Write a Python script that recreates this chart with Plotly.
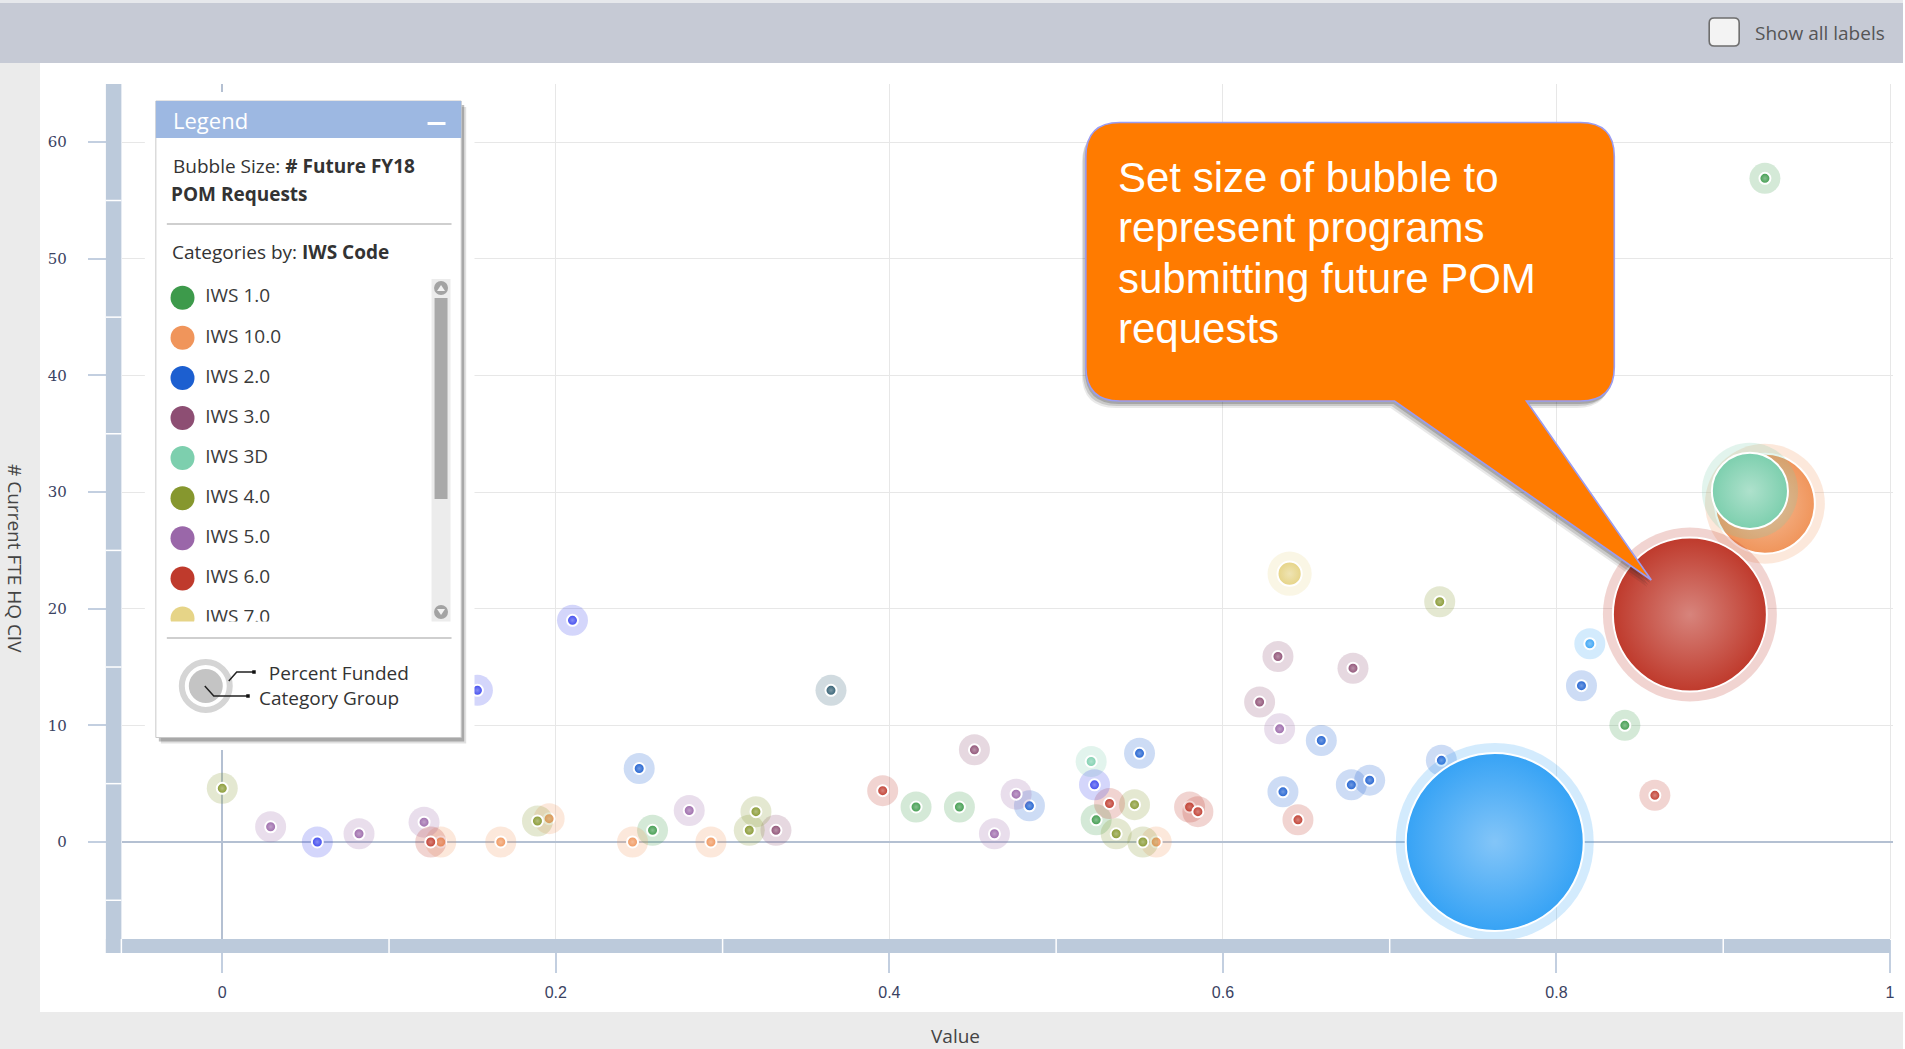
import numpy as np
import plotly.graph_objects as go

W, H = 1905, 1049

# ---------------------------------------------------------------- data
CATEGORIES = ["IWS 1.0", "IWS 10.0", "IWS 2.0", "IWS 3.0", "IWS 3D", "IWS 4.0",
              "IWS 5.0", "IWS 6.0", "IWS 7.0", "IWS 8.0", "IWS 9.0", "IWS 9.5"]
CATEGORY_COLORS = ["#3d9a4b", "#f0955b", "#1c5fd0", "#8d4e73", "#7dcfae", "#86972e",
                   "#9a67a9", "#bf3a2c", "#e6d487", "#3b46ee", "#2e5c70", "#37a3f5"]

# one entry per program group, in drawing order
BUBBLE_CATEGORY = (
    ["IWS 1.0"] * 6 + ["IWS 10.0"] * 7 + ["IWS 2.0"] * 9 + ["IWS 3.0"] * 5 +
    ["IWS 3D"] * 2 + ["IWS 4.0"] * 8 + ["IWS 5.0"] * 7 + ["IWS 6.0"] * 8 +
    ["IWS 7.0"] * 1 + ["IWS 8.0"] * 4 + ["IWS 9.0"] * 1 + ["IWS 9.5"] * 2
)
BUBBLE_VALUE = [
    0.258, 0.416, 0.442, 0.524, 0.841, 0.925,                 # IWS 1.0
    0.131, 0.167, 0.196, 0.246, 0.293, 0.560, 0.925,          # IWS 10.0
    0.250, 0.484, 0.550, 0.636, 0.659, 0.677, 0.688, 0.731, 0.815,  # IWS 2.0
    0.332, 0.451, 0.622, 0.633, 0.678,                        # IWS 3.0
    0.521, 0.916,                                             # IWS 3D
    0.000, 0.189, 0.316, 0.320, 0.547, 0.536, 0.552, 0.730,   # IWS 4.0
    0.029, 0.082, 0.121, 0.280, 0.463, 0.476, 0.634,          # IWS 5.0
    0.125, 0.396, 0.532, 0.580, 0.585, 0.645, 0.859, 0.880,   # IWS 6.0
    0.640,                                                    # IWS 7.0
    0.057, 0.153, 0.210, 0.523,                               # IWS 8.0
    0.365,                                                    # IWS 9.0
    0.820, 0.763,                                             # IWS 9.5
]
BUBBLE_FTE = [
    1.0, 3.0, 3.0, 1.9, 10.0, 56.9,
    0.0, 0.0, 2.0, 0.0, 0.0, 0.0, 29.0,
    6.3, 3.1, 7.6, 4.3, 8.7, 4.9, 5.3, 7.0, 13.4,
    1.0, 7.9, 12.0, 15.9, 14.9,
    6.9, 30.1,
    4.6, 1.8, 1.0, 2.6, 3.2, 0.7, 0.0, 20.6,
    1.3, 0.7, 1.7, 2.7, 0.7, 4.1, 9.7,
    0.0, 4.4, 3.3, 3.0, 2.6, 1.9, 4.0, 19.5,
    23.0,
    0.0, 13.0, 19.0, 4.9,
    13.0,
    17.0, 0.0,
]
BUBBLE_REQUESTS = [
    1, 1, 1, 1, 1, 1,
    1, 1, 1, 1, 1, 1, 136,
    1, 1, 1, 1, 1, 1, 1, 1, 1,
    1, 1, 1, 1, 1,
    1, 78,
    1, 1, 1, 1, 1, 1, 1, 1,
    1, 1, 1, 1, 1, 1, 1,
    1, 1, 1, 1, 1, 1, 1, 328,
    7,
    1, 1, 1, 1,
    1,
    1, 440,
]

X_TICKS = [0, 0.2, 0.4, 0.6, 0.8, 1]
Y_TICKS = [0, 10, 20, 30, 40, 50, 60]
X_RANGE = [-0.0602, 1.0018]
Y_RANGE = [-8.32, 64.99]

CALLOUT_LINES = ["Set size of bubble to", "represent programs",
                 "submitting future POM", "requests"]

# rows of the legend list that fit in its scrolling window
LEGEND_ROWS = 9


# ---------------------------------------------------------------- helpers
def px(x):
    return x / W


def py(y):
    return 1 - y / H


def rgb(h):
    h = h.lstrip("#")
    return tuple(int(h[i:i + 2], 16) for i in (0, 2, 4))


def rgba(h, a):
    r, g, b = rgb(h)
    return f"rgba({r},{g},{b},{a})"


def lighten(h, t):
    r, g, b = rgb(h)
    return "#%02x%02x%02x" % tuple(int(c + (255 - c) * t) for c in (r, g, b))


def ppath(points_cmds, dx=0, dy=0):
    out = []
    for item in points_cmds:
        if isinstance(item, str):
            out.append(item)
        else:
            out.append(f"{px(item[0] + dx):.5f},{py(item[1] + dy):.5f}")
    return " ".join(out)


def prect(x0, y0, x1, y1, color, layer="below", line=None):
    d = dict(type="rect", xref="paper", yref="paper", x0=px(x0), x1=px(x1),
             y0=py(y1), y1=py(y0), fillcolor=color, layer=layer,
             line=dict(width=0) if line is None else line)
    return d


# ---------------------------------------------------------------- bubbles
cat_idx = {c: i for i, c in enumerate(CATEGORIES)}
req = np.array(BUBBLE_REQUESTS, dtype=float)
MAX_DOT, MIN_DOT, HALO_PAD = 176.0, 9.0, 22.0
dot_d = np.maximum(MIN_DOT, MAX_DOT * np.sqrt(req / req.max()))

bx, by, bs, bc, blw, blc, gt, gc = [], [], [], [], [], [], [], []
for v, f, c, d in zip(BUBBLE_VALUE, BUBBLE_FTE, BUBBLE_CATEGORY, dot_d):
    base = CATEGORY_COLORS[cat_idx[c]]
    # funding ring
    bx.append(v); by.append(f); bs.append(d + HALO_PAD)
    bc.append(rgba(base, 0.22)); blw.append(0); blc.append("rgba(0,0,0,0)")
    gt.append("none"); gc.append(base)
    # category core
    bx.append(v); by.append(f); bs.append(d + 2)
    bc.append(base); blw.append(2); blc.append("white")
    gt.append("radial"); gc.append(lighten(base, 0.38))

fig = go.Figure()
fig.add_trace(go.Scatter(
    x=bx, y=by, mode="markers", hoverinfo="skip",
    marker=dict(size=bs, color=bc, line=dict(width=blw, color=blc),
                gradient=dict(type=gt, color=gc), opacity=1),
    xaxis="x", yaxis="y", showlegend=False,
))

# placeholder so the legend panel subplot exists
fig.add_trace(go.Scatter(x=[], y=[], xaxis="x2", yaxis="y2", showlegend=False))

# legend rows (the last visible row is clipped by the scrolling window)
legend_names = CATEGORIES[:LEGEND_ROWS]
legend_colors = CATEGORY_COLORS[:LEGEND_ROWS]
ROW_Y = [297.7 + 40.1 * i for i in range(LEGEND_ROWS)]
fig.add_trace(go.Scatter(
    x=[182.7] * LEGEND_ROWS, y=ROW_Y, mode="markers", hoverinfo="skip",
    marker=dict(size=24, color=legend_colors, line=dict(width=0)),
    xaxis="x3", yaxis="y3", showlegend=False,
))
fig.add_trace(go.Scatter(
    x=[205.5] * LEGEND_ROWS, y=ROW_Y, mode="text", text=legend_names,
    textposition="middle right", hoverinfo="skip",
    textfont=dict(family="Open Sans", size=19, color="#3a3a3a"),
    xaxis="x3", yaxis="y3", showlegend=False,
))

# ---------------------------------------------------------------- shapes
shapes = []
# page chrome
shapes.append(prect(0, 0, W, 3, "#e6e8ec"))
shapes.append(prect(0, 3, W, 63, "#c6cad5"))
shapes.append(prect(0, 63, 40, H, "#ebebeb"))
shapes.append(prect(0, 1012, W, H, "#ebebeb"))

# axis bars
BAR = "#bccadb"
shapes.append(prect(106, 84, 121.5, 953, BAR, layer="above"))
shapes.append(prect(106, 939, 1892, 953, BAR, layer="above"))
for yv in [55, 45, 35, 25, 15, 5, -5]:
    shapes.append(dict(type="line", xref="paper", yref="y", x0=px(106), x1=px(121.5),
                       y0=yv, y1=yv, line=dict(color="white", width=1.5), layer="above"))
for xv in [0.1, 0.3, 0.5, 0.7, 0.9]:
    shapes.append(dict(type="line", xref="x", yref="paper", x0=xv, x1=xv,
                       y0=py(953), y1=py(939), line=dict(color="white", width=1.5), layer="above"))
shapes.append(dict(type="line", xref="paper", yref="paper", x0=px(121.5), x1=px(121.5),
                   y0=py(953), y1=py(939), line=dict(color="white", width=1.5), layer="above"))

# checkbox
cb = ["M", (1716, 18), "L", (1736, 18), "Q", (1741, 18), (1741, 23), "L", (1741, 41),
      "Q", (1741, 46), (1736, 46), "L", (1716, 46), "Q", (1711, 46), (1711, 41),
      "L", (1711, 23), "Q", (1711, 18), (1716, 18), "Z"]
shapes.append(dict(type="path", xref="paper", yref="paper", path=ppath(cb),
                   fillcolor="#f3f3f3", line=dict(color="#6e6e6e", width=1.6), layer="above"))

# callout balloon
L, T, R, B, RAD = 1087, 122.5, 1616, 401, 34
TAIL_L, TAIL_R, TIP = 1396, 1528, (1653, 580)
balloon = ["M", (L + RAD, T), "L", (R - RAD, T), "Q", (R, T), (R, T + RAD),
           "L", (R, B - RAD), "Q", (R, B), (R - RAD, B), "L", (TAIL_R, B), "L", TIP,
           "L", (TAIL_L, B), "L", (L + RAD, B), "Q", (L, B), (L, B - RAD),
           "L", (L, T + RAD), "Q", (L, T), (L + RAD, T), "Z"]
for dx, dy, a in [(-4, 7, 0.10), (-3, 5, 0.16), (-1, 3, 0.22)]:
    shapes.append(dict(type="path", xref="paper", yref="paper", path=ppath(balloon, dx, dy),
                       fillcolor=f"rgba(40,40,40,{a})", line=dict(width=0), layer="above"))
shapes.append(dict(type="path", xref="paper", yref="paper", path=ppath(balloon),
                   fillcolor="#ff7b00", line=dict(color="#9a9cf2", width=1.6), layer="above"))


# legend panel (pixel units on x2/y2)
def lrect(x0, y0, x1, y1, fill, line=None):
    return dict(type="rect", xref="x2", yref="y2", x0=x0, x1=x1, y0=y0, y1=y1,
                fillcolor=fill, layer="below",
                line=dict(width=0) if line is None else line)


LG_L, LG_T, LG_R, LG_B = 156, 101, 461.7, 737.5
shapes.append(lrect(LG_L + 5, LG_T + 6, LG_R + 5, LG_B + 6, "rgba(0,0,0,0.12)"))
shapes.append(lrect(LG_L + 3, LG_T + 4, LG_R + 3, LG_B + 4, "rgba(0,0,0,0.25)"))
shapes.append(lrect(LG_L, LG_T, LG_R, LG_B, "white", dict(color="#c9c9c9", width=1)))
shapes.append(lrect(LG_L, LG_T, LG_R, 138, "#9db8e2"))
shapes.append(lrect(428, 122, 446, 125, "white"))
for ysep in (224, 638):
    shapes.append(dict(type="line", xref="x2", yref="y2", x0=167, x1=452, y0=ysep, y1=ysep,
                       line=dict(color="#cfcfcf", width=2), layer="below"))
# scroll bar
shapes.append(lrect(432, 279, 451, 621.5, "#ececec"))
shapes.append(lrect(435, 298, 448, 499, "#a9a9a9"))
for cy, tri in [(288, [(437.5, 291), (445.5, 291), (441.5, 285)]),
                (612, [(437.5, 609), (445.5, 609), (441.5, 615)])]:
    shapes.append(dict(type="circle", xref="x2", yref="y2", x0=434.5, x1=448.5,
                       y0=cy - 7, y1=cy + 7, fillcolor="#a3a3a3", line=dict(width=0), layer="below"))
    shapes.append(dict(type="path", xref="x2", yref="y2", layer="below",
                       path="M {} {} L {} {} L {} {} Z".format(*tri[0], *tri[1], *tri[2]),
                       fillcolor="#f2f2f2", line=dict(width=0)))
# ring key icon
shapes.append(dict(type="circle", xref="x2", yref="y2", x0=206 - 24, x1=206 + 24,
                   y0=686 - 24, y1=686 + 24, fillcolor="rgba(0,0,0,0)",
                   line=dict(color="#d5d5d5", width=6), layer="below"))
shapes.append(dict(type="circle", xref="x2", yref="y2", x0=206 - 17, x1=206 + 17,
                   y0=686 - 17, y1=686 + 17, fillcolor="#c4c4c4",
                   line=dict(width=0), layer="below"))
shapes.append(dict(type="path", xref="x2", yref="y2", layer="below",
                   path="M 229 681 L 237 672 L 254 672", line=dict(color="#222", width=1.5)))
shapes.append(dict(type="path", xref="x2", yref="y2", layer="below",
                   path="M 205 686 L 214 696 L 248 696", line=dict(color="#222", width=1.5)))
shapes.append(lrect(252.5, 670.3, 256, 673.8, "#111"))
shapes.append(lrect(246.5, 694.3, 250, 697.8, "#111"))

# ---------------------------------------------------------------- annotations
ann = []


def label(x, y, text, size=19, color="#333", family="Open Sans", anchor="left", **kw):
    ann.append(dict(x=px(x), y=py(y), xref="paper", yref="paper", xanchor=anchor,
                    yanchor="middle", showarrow=False, text=text,
                    font=dict(family=family, size=size, color=color), **kw))


label(1755, 33, "Show all labels", color="#555")
label(957, 1035.5, "Value", color="#444", anchor="center")
label(15, 559, "# Current FTE HQ CIV", size=19, color="#444", anchor="center", textangle=90)
for i, line in enumerate(CALLOUT_LINES):
    label(1117, 177.5 + 50.4 * i, line, size=42, color="white", family="Liberation Sans")
label(171, 120, "Legend", size=22, color="white")
label(171, 166, "Bubble Size: <b># Future FY18</b>")
label(169, 194, "<b>POM Requests</b>")
label(170, 252, "Categories by: <b>IWS Code</b>")
label(258, 685, "&nbsp;&nbsp;Percent Funded<br>Category Group", align="left", borderpad=0)

# ---------------------------------------------------------------- layout
hidden = dict(visible=False, showgrid=False, zeroline=False, fixedrange=True)
fig.update_layout(
    width=W, height=H, margin=dict(l=0, r=0, t=0, b=0),
    paper_bgcolor="white", plot_bgcolor="white", showlegend=False,
    xaxis=dict(domain=[px(122), px(1895)], range=X_RANGE, tickvals=X_TICKS,
               showgrid=True, gridcolor="#e7e7e7", gridwidth=1.2,
               zeroline=True, zerolinecolor="#b4c0d2", zerolinewidth=1.5,
               showline=False, ticks="outside", ticklen=33, tickwidth=1.5,
               tickcolor="#c3cfe0", ticklabelstandoff=6,
               tickfont=dict(family="Liberation Sans", size=16, color="#3a4262"),
               anchor="y", fixedrange=True),
    yaxis=dict(domain=[py(939), py(84)], range=Y_RANGE, tickvals=Y_TICKS,
               showgrid=True, gridcolor="#e7e7e7", gridwidth=1.2,
               zeroline=True, zerolinecolor="#b4c0d2", zerolinewidth=1.5,
               showline=False, ticks="outside", ticklen=33, tickwidth=1.5,
               tickcolor="#c3cfe0", ticklabelstandoff=18,
               tickfont=dict(family="DejaVu Serif", size=15, color="#3a4262"),
               anchor="x", fixedrange=True),
    xaxis2=dict(domain=[px(145), px(475)], range=[145, 475], anchor="y2", **hidden),
    yaxis2=dict(domain=[py(750), py(92)], range=[750, 92], anchor="x2", **hidden),
    xaxis3=dict(domain=[px(160), px(430)], range=[160, 430], anchor="y3", **hidden),
    yaxis3=dict(domain=[py(621.5), py(279)], range=[621.5, 279], anchor="x3", **hidden),
    shapes=shapes, annotations=ann,
)

fig.write_html("out.html")
